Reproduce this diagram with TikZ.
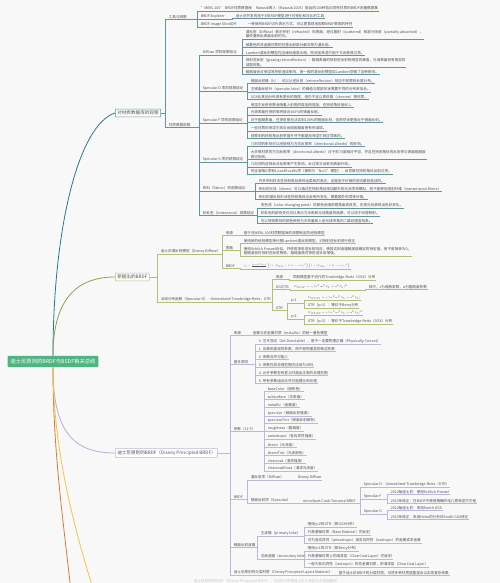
\documentclass[tikz,border=0pt]{standalone}
\usepackage{fontspec}
\setmainfont{Noto Sans CJK SC}
\usepackage{graphicx}
\usetikzlibrary{calc}
\definecolor{bgc}{RGB}{248,248,248}
\definecolor{rootg}{RGB}{78,181,128}
\definecolor{tealC}{RGB}{40,120,140}
\definecolor{tealL}{RGB}{100,148,160}
\definecolor{oliveC}{RGB}{140,162,80}
\definecolor{oliveL}{RGB}{180,190,120}
\definecolor{lavC}{RGB}{188,168,218}
\definecolor{lavL}{RGB}{192,182,218}
\definecolor{orC}{RGB}{226,120,48}
\definecolor{yeC}{RGB}{242,196,72}
\definecolor{txt}{RGB}{80,80,80}
\tikzset{
  lf/.style={anchor=west, inner xsep=0.6pt, inner ysep=0.7pt, font=\fontsize{3.6}{4.4}\selectfont, text=txt, align=left},
  lvbox/.style={anchor=west, draw=#1, fill=white, rounded corners=0.6pt, inner xsep=2pt, inner ysep=1.8pt, font=\fontsize{4.6}{5.5}\selectfont, text=txt, line width=0.5pt},
  rootbox/.style={fill=rootg, rounded corners=1pt, inner xsep=3pt, inner ysep=3.2pt, font=\fontsize{5.3}{6.4}\selectfont, text=white},
  ta/.style={draw=tealL, line width=0.4pt},
  ol/.style={draw=oliveL, line width=0.4pt},
  la/.style={draw=lavL, line width=0.4pt},
  curve/.style={line width=0.8pt, draw=#1},
}
\newcommand\lnk[3]{\draw[#1] (#2.south east) -| ([xshift=-2.5pt]#3.south west) -- (#3.south west) -- (#3.south east);}
\newcommand\lnkb[3]{\draw[#1] (#2.east) -| ([xshift=-2.5pt]#3.south west) -- (#3.south west) -- (#3.south east);}
\newcommand\fm[2]{\scalebox{#1}{$#2$}}
\begin{document}
\begin{tikzpicture}[x=1pt,y=-1pt]
\fill[bgc] (0,0) rectangle (500,583);
\useasboundingbox (0,0) rectangle (500,583);
\clip (0,0) rectangle (500,583);

% root
\node[rootbox] (root) at (53,361.5) {迪士尼原则的BRDF与BSDF相关总结};

% level-1 boxes
\node[lvbox=tealL] (b1) at (115,113) {对材质数据库的观察};
\node[lvbox=oliveL] (b2) at (115,277) {新提出的BRDF};
\node[lvbox=lavL] (b3) at (115,453) {迪士尼原则的BRDF（Disney Principled BRDF）};

% root curves
\draw[curve=tealC] (root.north) .. controls (53,230) and (78,125) .. (b1.west);
\draw[curve=oliveC] (root.north) .. controls (53,305) and (72,277) .. (b2.west);
\draw[curve=lavC] (root.south) .. controls (53,430) and (72,453) .. (b3.west);
\draw[curve=orC] (root.south) .. controls (53,460) and (65,530) .. (74,620);
\draw[curve=yeC] (root.south) .. controls (53,440) and (70,520) .. (100,610);

% ================= branch 1 =================
\node[lf] (t1) at (168,16.7) {工具与观察};
\node[lf] (t2) at (168,125) {材质数据观察};
\lnkb{ta}{b1}{t1}
\lnkb{ta}{b1}{t2}

\node[lf] (t1a) at (200,8.3) {"MERL 100" BRDF材质数据库};
\node[lf] (t1a1) at (255,8.3) {Matusik等人（Matusik 2003）提出的100种各向同性材质的BRDF测量数据集};
\node[lf] (t1b) at (200,16) {BRDF Explorer};
\node[lf] (t1b1) at (235,16) {迪士尼开发的用于对BRDF模型进行可视化和对比的工具};
\node[lf] (t1c) at (200,24.3) {BRDF Image Slice切片};
\node[lf] (t1c1) at (247,24.3) {一种新的BRDF切片表示方式，可以更直观地观察BRDF数据的特性};
\lnk{ta}{t1}{t1a}\lnk{ta}{t1a}{t1a1}
\lnk{ta}{t1}{t1b}\lnk{ta}{t1b}{t1b1}
\lnk{ta}{t1}{t1c}\lnk{ta}{t1c}{t1c1}

\node[lf] (d1) at (202,52.3) {Diffuse 项的观察结论};
\node[lf] (d2) at (202,88.3) {Specular D 项的观察结论};
\node[lf] (d3) at (202,120.7) {Specular F 项的观察结论};
\node[lf] (d4) at (202,159.3) {Specular G 项的观察结论};
\node[lf] (d5) at (202,188.3) {布料（Fabric）的观察结论};
\node[lf] (d6) at (202,212.7) {彩虹色（Iridescence）观察结论};
\foreach \n in {d1,d2,d3,d4,d5,d6}{\lnk{ta}{t2}{\n}}

\node[lf] (d1a) at (245,34) {漫反射（Diffuse）表示折射（refracted）到表面，经过散射（scattered）和部分吸收（partially absorbed），\\最终重新出表面出射的光。};
\node[lf] (d1b) at (245,45) {被着色的非金属材质的任意出射部分都应视为漫反射。};
\node[lf] (d1c) at (245,52.7) {Lambert漫反射模型在边缘处通常太暗，而添加菲涅尔因子又会使其过亮。};
\node[lf] (d1d) at (245,62.5) {掠射逆反射（grazing retroreflection）：粗糙表面的掠射逆反射有明显的峰值，光滑表面则有明显的\\减弱现象。};
\node[lf] (d1e) at (245,71.7) {粗糙度会对菲涅耳折射造成影响，而一般的漫反射模型如Lambert忽略了这种影响。};
\foreach \n in {d1a,d1b,d1c,d1d,d1e}{\lnk{ta}{d1}{\n}}

\node[lf] (d2a) at (250,81) {镜面反射峰（h）：可以从逆反射（retroreflection）响应中观察到长尾分布。};
\node[lf] (d2b) at (250,89) {主镜面反射叶（specular lobe）的峰值与尾部形状需要不同的分布来拟合。};
\node[lf] (d2c) at (250,97) {GGX比其他分布具有更长的拖尾，但仍不足以表现铬（chrome）等材质。};
\foreach \n in {d2a,d2b,d2c}{\lnk{ta}{d2}{\n}}

\node[lf] (d3a) at (250,105) {菲涅尔反射系数会随着入射角的增加而增加，在掠射角处接近1。};
\node[lf] (d3b) at (250,112.5) {光滑表面在掠射角将接近100\%的镜面反射。};
\node[lf] (d3c) at (250,120) {对于粗糙表面，在掠射角无法达到100\%的镜面反射，但依然会更接近于镜面反射。};
\node[lf] (d3d) at (250,128.3) {一些材质的菲涅尔效应会因粗糙度而有所减弱。};
\node[lf] (d3e) at (250,136) {观察到的掠射角反射率提升并不都是由菲涅尔效应导致的。};
\foreach \n in {d3a,d3b,d3c,d3d,d3e}{\lnk{ta}{d3}{\n}}

\node[lf] (d4a) at (250,144) {几何项的影响可以间接视为方向反照率（directional albedo）的影响。};
\node[lf] (d4b) at (250,154.8) {大多数材质的方向反照率（directional albedo）对于前70度相对平坦，并且在掠射角处的反射率与表面粗糙度\\密切相关。};
\node[lf] (d4c) at (250,164.3) {几何项的选择会对反照率产生影响，反过来又会影响表面外观。};
\node[lf] (d4d) at (250,171.7) {完全省略G项和1/cosθl cosθv项（被称为“No G”模型），会导致在掠射角处反射过亮。};
\foreach \n in {d4a,d4b,d4c,d4d}{\lnk{ta}{d4}{\n}}

\node[lf] (d5a) at (258,180.7) {许多布料样本在掠射角处表现出柔和的高光，这是由于纤维的前向散射造成的。};
\node[lf] (d5b) at (258,189) {布料的光泽（sheen）可以通过在掠射角处增加额外的光泽项来模拟，而不是使用透射纤维（transmission fibers）};
\node[lf] (d5c) at (258,196.7) {布料的漫反射形状在掠射角处也会有所变化，需要额外的项来补偿。};
\foreach \n in {d5a,d5b,d5c}{\lnk{ta}{d5}{\n}}

\node[lf] (d6a) at (260,205) {变色漆（color changing paint）的颜色会随观察角度而改变，在高光处表现出色彩变化。};
\node[lf] (d6b) at (260,213.3) {彩虹色的颜色变化可以表示为半角和光线角度的函数，可以用于纹理映射。};
\node[lf] (d6c) at (260,221) {可以将观察到的颜色映射为半矢量和入射光线夹角的二维纹理查找表。};
\foreach \n in {d6a,d6b,d6c}{\lnk{ta}{d6}{\n}}

% ================= branch 2 =================
\node[lf] (n1) at (160,251.7) {迪士尼漫反射模型（Disney Diffuse）};
\node[lf] (n2) at (160,299.3) {法线分布函数（Specular D） - Generalized-Trowbridge-Reitz，GTR};
\lnkb{ol}{b2}{n1}
\lnkb{ol}{b2}{n2}

\node[lf] (n1a) at (225,232.7) {来源};
\node[lf] (n1a1) at (243,232.7) {基于对MERL 100材质数据库的观察制定的经验模型};
\node[lf] (n1b) at (225,248) {思路};
\node[lf] (n1b1) at (243,240.7) {使用新的经验模型来代替Lambert漫反射模型，对掠射逆反射进行修正};
\node[lf] (n1b2) at (243,251) {使用Schlick Fresnel近似，并修改掠射逆反射响应，使其达到由粗糙度值确定的特定值，而不是简单为0。\\粗糙度低时掠射逆反射降低，粗糙度高时掠射逆反射增强。};
\node[lf] (n1c) at (225,266) {BRDF};
\node[lf] (n1c1) at (243,266) {\fm{0.45}{f_d=\frac{baseColor}{\pi}\left(1+(F_{D90}-1)(1-\cos\theta_l)^5\right)\left(1+(F_{D90}-1)(1-\cos\theta_v)^5\right)}};
\lnk{ol}{n1}{n1a}\lnk{ol}{n1}{n1b}\lnk{ol}{n1}{n1c}
\lnk{ol}{n1a}{n1a1}
\lnk{ol}{n1b}{n1b1}\lnk{ol}{n1b}{n1b2}
\lnk{ol}{n1c}{n1c1}

\node[lf] (n2a) at (275,277) {来源};
\node[lf] (n2a1) at (292,277) {早期模型基于流行的Trowbridge-Reitz（GGX）分布};
\node[lf] (n2b) at (275,287) {GGX/TR};
\node[lf] (n2b1) at (293,287) {\fm{0.52}{D_{GGX}=c/(\alpha^2\cos^2\theta_h+\sin^2\theta_h)^2}};
\node[lf] (n2b2) at (368,287) {其中，c为缩放常数，α为粗糙度参数};
\node[lf] (n2c) at (275,308.3) {GTR};
\node[lf] (g1) at (290,301) {γ=1};
\node[lf] (g1a) at (307,297.7) {\fm{0.52}{D_{GTR1}=c/(\alpha^2\cos^2\theta_h+\sin^2\theta_h)}};
\node[lf] (g1b) at (307,305) {GTR（γ=1）：等价于Berry分布};
\node[lf] (g2) at (290,317) {γ=2};
\node[lf] (g2a) at (307,312.7) {\fm{0.52}{D_{GTR2}=c/(\alpha^2\cos^2\theta_h+\sin^2\theta_h)^2}};
\node[lf] (g2b) at (307,321) {GTR（γ=2）：等价于Trowbridge-Reitz（GGX）分布};
\lnk{ol}{n2}{n2a}\lnk{ol}{n2}{n2b}\lnk{ol}{n2}{n2c}
\lnk{ol}{n2a}{n2a1}
\lnk{ol}{n2b}{n2b1}\lnk{ol}{n2b1}{n2b2}
\lnk{ol}{n2c}{g1}\lnk{ol}{n2c}{g2}
\lnk{ol}{g1}{g1a}\lnk{ol}{g1}{g1b}
\lnk{ol}{g2}{g2a}\lnk{ol}{g2}{g2b}

% ================= branch 3 =================
\node[lf] (p1) at (233,332.7) {来源};
\node[lf] (p2) at (233,361.7) {基本原则};
\node[lf] (p3) at (233,428.7) {参数（11个）};
\node[lf] (p4) at (233,496.7) {BRDF};
\node[lf] (p5) at (233,545) {镜面反射波瓣};
\node[lf] (p6) at (233,572.7) {迪士尼原则的分层材质（Disney Principled Layers Material）};
\foreach \n in {p1,p2,p3,p4,p5,p6}{\lnkb{la}{b3}{\n}}

\node[lf] (p1a) at (252,332.7) {金属与非金属材质（metallic）的统一着色模型};
\lnk{la}{p1}{p1a}

\node[lf] (r0) at (258,341) {0. 艺术导向（Art Directable），而不一定要物理正确（Physically Correct）};
\node[lf] (r1) at (258,349) {1. 应使用直观的参数，而不是物理类的晦涩参数};
\node[lf] (r2) at (258,357) {2. 参数应尽可能少};
\node[lf] (r3) at (258,365) {3. 参数在其合理范围内应该为0到1};
\node[lf] (r4) at (258,373) {4. 允许参数在有意义时超出正常的合理范围};
\node[lf] (r5) at (258,381) {5. 所有参数组合应尽可能健壮和合理};
\foreach \n in {r0,r1,r2,r3,r4,r5}{\lnk{la}{p2}{\n}}

\node[lf] (q1) at (267,389) {baseColor（固有色）};
\node[lf] (q2) at (267,397) {subsurface（次表面）};
\node[lf] (q3) at (267,405) {metallic（金属度）};
\node[lf] (q4) at (267,413) {specular（镜面反射强度）};
\node[lf] (q5) at (267,420.7) {specularTint（镜面反射颜色）};
\node[lf] (q6) at (267,428.7) {roughness（粗糙度）};
\node[lf] (q7) at (267,436.7) {anisotropic（各向异性强度）};
\node[lf] (q8) at (267,444.7) {sheen（光泽度）};
\node[lf] (q9) at (267,452.7) {sheenTint（光泽颜色）};
\node[lf] (q10) at (267,460.7) {clearcoat（清漆强度）};
\node[lf] (q11) at (267,468.3) {clearcoatGloss（清漆光泽度）};
\foreach \n in {q1,q2,q3,q4,q5,q6,q7,q8,q9,q10,q11}{\lnk{la}{p3}{\n}}

\node[lf] (p4a) at (250,477.3) {漫反射项（Diffuse）};
\node[lf] (p4a1) at (297,477.3) {Disney Diffuse};
\node[lf] (p4b) at (250,500.7) {镜面反射项（Specular）};
\node[lf] (p4b1) at (302,500.7) {microfacet Cook-Torrance BRDF};
\lnk{la}{p4}{p4a}\lnk{la}{p4a}{p4a1}
\lnk{la}{p4}{p4b}\lnk{la}{p4b}{p4b1}

\node[lf] (s1) at (363,484) {Specular D：Generalized-Trowbridge-Reitz（GTR）};
\node[lf] (s2) at (363,496.7) {Specular F};
\node[lf] (s3) at (363,511.7) {Specular G};
\foreach \n in {s1,s2,s3}{\lnk{la}{p4b1}{\n}}
\node[lf] (s2a) at (390,492) {2012版迪士尼：使用Schlick Fresnel};
\node[lf] (s2b) at (390,500.7) {2015年修正：在BSDF中使用精确的电介质菲涅尔方程};
\node[lf] (s3a) at (390,508) {2012版迪士尼：采用Smith GGX};
\node[lf] (s3b) at (390,516.7) {2015年修正：采用Heitz的分析对Smith GGX修正};
\lnk{la}{s2}{s2a}\lnk{la}{s2}{s2b}
\lnk{la}{s3}{s3a}\lnk{la}{s3}{s3b}

\node[lf] (l1) at (260,533.3) {主波瓣（primary lobe）};
\node[lf] (l2) at (260,556.7) {次级波瓣（secondary lobe）};
\lnk{la}{p5}{l1}\lnk{la}{p5}{l2}
\node[lf] (l1a) at (307,524.3) {使用γ=2的GTR（即GGX分布）};
\node[lf] (l1b) at (307,532.3) {代表基础材质（Base Material）的反射};
\node[lf] (l1c) at (307,540) {可为各向异性（anisotropic）或各向同性（isotropic）的金属或非金属};
\node[lf] (l2a) at (307,548.3) {使用γ=1的GTR（即Berry分布）};
\node[lf] (l2b) at (307,556.7) {代表基础材质上的清漆层（ClearCoat Layer）的反射};
\node[lf] (l2c) at (307,564.3) {一般为各向同性（isotropic）的非金属材质，即清漆层（ClearCoat Layer）};
\foreach \n in {l1a,l1b,l1c}{\lnk{la}{l1}{\n}}
\foreach \n in {l2a,l2b,l2c}{\lnk{la}{l2}{\n}}

\node[lf] (p6a) at (338,572.7) {基于迪士尼BRDF的分层材质，可将多种材质层叠混合以实现复杂效果};
\lnk{la}{p6}{p6a}

% faint text at the bottom edge (next branch, partly cut off as in the reference)
\node[lf, text=black!22, anchor=west] (cut) at (193,581) {迪士尼原则的BSDF（Disney Principled BSDF）：在BRDF的基础上引入透射与次表面散射};
\end{tikzpicture}
\end{document}
